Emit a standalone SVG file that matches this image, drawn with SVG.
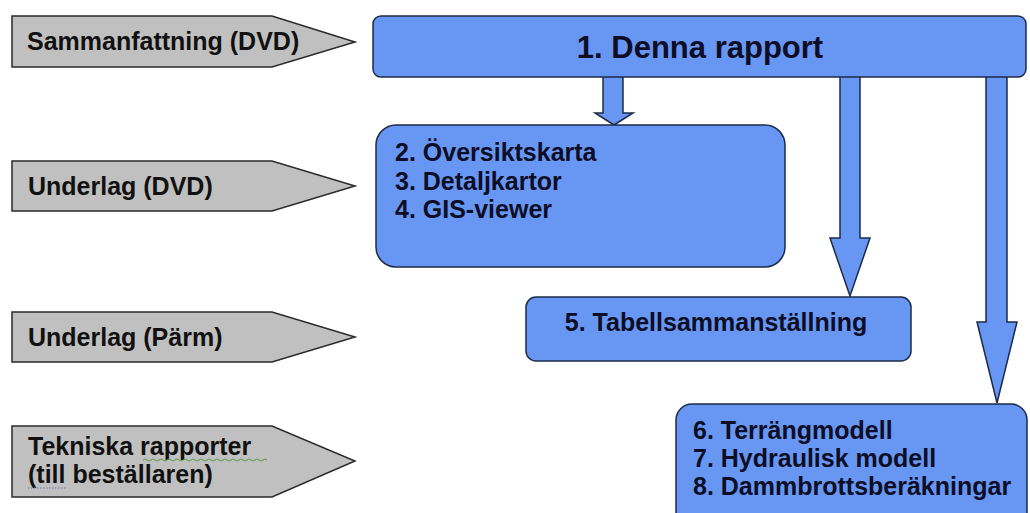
<svg xmlns="http://www.w3.org/2000/svg" width="1030" height="513" viewBox="0 0 1030 513">
<style>
.tag{fill:#c0c0c0;stroke:#2a2a2a;stroke-width:1.5}
.box{fill:#6797f3;stroke:#1c2b4a;stroke-width:1.5}
.arr{fill:#6797f3;stroke:#1c2b4a;stroke-width:1.5;stroke-linejoin:miter}
.lbl{font-family:"Liberation Sans",Arial,sans-serif;font-weight:bold;font-size:25px;fill:#111}
.btx{font-family:"Liberation Sans",Arial,sans-serif;font-weight:bold;font-size:25px;fill:#0d0d26}
</style>
<rect width="1030" height="513" fill="#ffffff"/>
<g id="connectors">
<polygon class="arr" points="603,60 623,60 623,113 633,113 614,125 595,113 603,113"/>
<polygon class="arr" points="840,60 860,60 860,238 870,238 850,296 830,238 840,238"/>
<polygon class="arr" points="986,60 1007,60 1007,322 1017,322 997,403 977,322 986,322"/>
</g>
<g id="tag-sammanfattning">
<polygon class="tag" points="12,16 272,16 355,42 272,67 12,67"/>
<text class="lbl" x="27" y="50">Sammanfattning (DVD)</text>
</g>
<g id="tag-underlag-dvd">
<polygon class="tag" points="12,161 272,161 355,186 272,211 12,211"/>
<text class="lbl" x="28" y="195">Underlag (DVD)</text>
</g>
<g id="tag-underlag-parm">
<polygon class="tag" points="12,312 272,312 355,337 272,362 12,362"/>
<text class="lbl" x="28" y="346">Underlag (Pärm)</text>
</g>
<g id="tag-tekniska">
<polygon class="tag" points="12,426 272,426 355,461 272,497 12,497"/>
<text class="lbl" x="28" y="455">Tekniska rapporter</text>
<text class="lbl" x="28" y="483">(till beställaren)</text>
<path d="M143,460 q2,-2 4,0 t4,0 t4,0 t4,0 t4,0 t4,0 t4,0 t4,0 t4,0 t4,0 t4,0 t4,0 t4,0 t4,0 t4,0 t4,0 t4,0 t4,0 t4,0 t4,0 t4,0 t4,0 t4,0 t4,0 t4,0 t4,0 t4,0 t4,0 t4,0 t4,0 t4,0" fill="none" stroke="#5a9a4a" stroke-width="1"/>
<line x1="28" y1="488" x2="67" y2="488" stroke="#6a7a9a" stroke-width="1" stroke-dasharray="1.5,1.5"/>
</g>
<g id="node-1">
<rect class="box" x="373" y="16" width="653" height="61" rx="8"/>
<text class="btx" x="700" y="58" text-anchor="middle" font-size="31" style="font-size:31px">1. Denna rapport</text>
</g>
<g id="node-2-4">
<rect class="box" x="376" y="125" width="409" height="142" rx="20"/>
<text class="btx" x="395" y="161">2. Översiktskarta</text>
<text class="btx" x="395" y="190">3. Detaljkartor</text>
<text class="btx" x="395" y="218">4. GIS-viewer</text>
</g>
<g id="node-5">
<rect class="box" x="526" y="297" width="385" height="64" rx="10"/>
<text class="btx" x="716" y="331" text-anchor="middle">5. Tabellsammanställning</text>
</g>
<g id="node-6-8">
<rect class="box" x="676" y="404" width="351" height="125" rx="16"/>
<text class="btx" x="693" y="439">6. Terrängmodell</text>
<text class="btx" x="693" y="467">7. Hydraulisk modell</text>
<text class="btx" x="693" y="495">8. Dammbrottsberäkningar</text>
</g>
</svg>
